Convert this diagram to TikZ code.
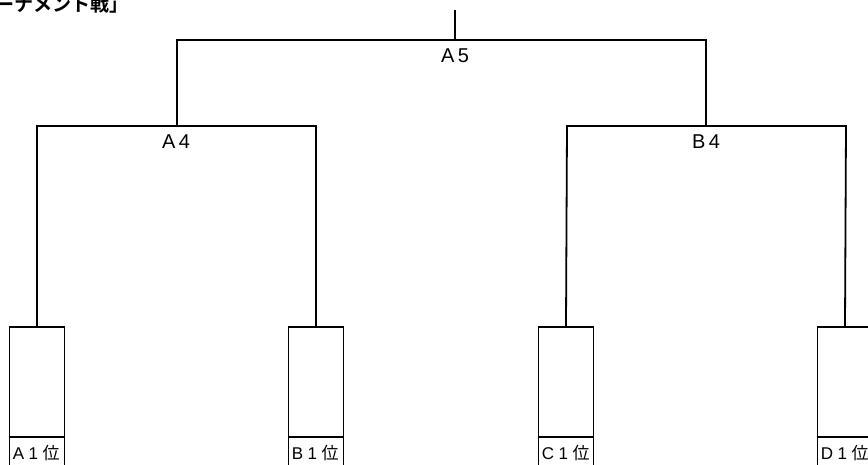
\documentclass[tikz,border=0pt]{standalone}
\usepackage{fontspec}
\setmainfont{Liberation Sans}
\newfontfamily\jpfont{Noto Sans CJK JP}
\newfontfamily\titlefont{Noto Sans CJK JP Bold}
\newcommand{\gp}{\hspace{3.5pt}}
\newcommand{\sg}{\hspace{4.5pt}}
\begin{document}
\begin{tikzpicture}[x=1pt,y=-1pt,
  line width=1.8pt,
  lbl/.style={font=\fontsize{20}{20}\selectfont, inner sep=0pt, anchor=base},
  seedbox/.style={draw, line width=1.8pt, minimum width=55pt, minimum height=150pt, inner sep=0pt, anchor=north},
  seedlbl/.style={font=\fontsize{17}{17}\selectfont, inner sep=0pt, anchor=base west},
  wire/.style={draw, line width=1.8pt}]
\useasboundingbox (0,0) rectangle (868,464);
\fill[white] (0,0) rectangle (868,464);
% title (clipped by page edge)
\node[font=\titlefont\fontsize{19}{19}\selectfont, inner sep=0pt, anchor=base east] (title) at (129,11) {トーナメント戦」};
% coordinates of the tree
\coordinate (top) at (455,10);
\coordinate (f) at (455,40);
\coordinate (fl) at (177,40);
\coordinate (fr) at (706,40);
\coordinate (sl) at (177,126);
\coordinate (sr) at (706,126);
\coordinate (sll) at (37,126);
\coordinate (slr) at (316,126);
\coordinate (srl) at (567,126);
\coordinate (srr) at (846,126);
% seed boxes
\node[seedbox] (A1) at (37,326) {};
\node[seedbox] (B1) at (316,326) {};
\node[seedbox] (C1) at (566,326) {};
\node[seedbox] (D1) at (845,326) {};
% connectors
\draw[wire] (top) -- (f);
\draw[wire] (sl) -- (fl) -- (fr) -- (sr);
\draw[wire] (A1.north) -- (sll) -- (slr) -- (B1.north);
\draw[wire] (C1.north) -- (srl) -- (srr) -- (D1.north);
% dividers
\foreach \n in {A1,B1,C1,D1}{
  \draw[wire] ([yshift=-111pt]\n.north west) -- ([yshift=-111pt]\n.north east);
}
% labels
\node[lbl] (lA5) at (455,62) {A\gp5};
\node[lbl] (lA4) at (176,148) {A\gp4};
\node[lbl] (lB4) at (706,148) {B\gp4};
\node[seedlbl] (tA1) at (12,459) {A\sg1\sg{\jpfont 位}};
\node[seedlbl] (tB1) at (291,459) {B\sg1\sg{\jpfont 位}};
\node[seedlbl] (tC1) at (541,459) {C\sg1\sg{\jpfont 位}};
\node[seedlbl] (tD1) at (820,459) {D\sg1\sg{\jpfont 位}};
\end{tikzpicture}
\end{document}
